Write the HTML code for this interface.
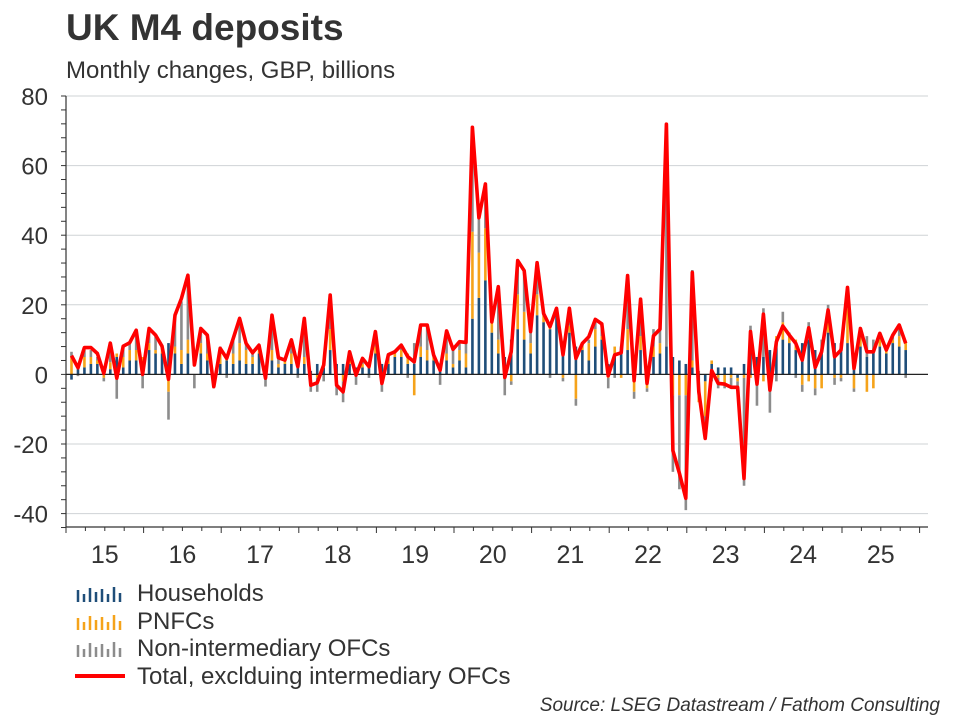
<!DOCTYPE html>
<html><head><meta charset="utf-8"><style>
body{margin:0;background:#fff;}
svg{display:block;font-family:"Liberation Sans",Arial,sans-serif;}
</style></head><body>
<svg id="chart" width="960" height="720" viewBox="0 0 960 720">
<text x="66" y="40" font-size="37" font-weight="bold" fill="#333">UK M4 deposits</text>
<text x="66" y="78" font-size="24" fill="#333">Monthly changes, GBP, billions</text>
<g id="grid"></g>
<g id="bars"></g>
<g id="axes"></g>
<g id="line"></g>
<g id="legend">
  <g>
    <g stroke="#1f4e79" stroke-width="2.5"><line x1="78" y1="602" x2="78" y2="590"/><line x1="84" y1="602" x2="84" y2="594"/><line x1="90" y1="602" x2="90" y2="588"/><line x1="96" y1="602" x2="96" y2="592"/><line x1="102" y1="602" x2="102" y2="589"/><line x1="108" y1="602" x2="108" y2="594"/><line x1="114" y1="602" x2="114" y2="587"/><line x1="120" y1="602" x2="120" y2="593"/></g>
    <text x="137" y="601" font-size="24" fill="#333">Households</text></g>
  <g>
    <g stroke="#f5a31a" stroke-width="2.5"><line x1="78" y1="630" x2="78" y2="618"/><line x1="84" y1="630" x2="84" y2="622"/><line x1="90" y1="630" x2="90" y2="616"/><line x1="96" y1="630" x2="96" y2="620"/><line x1="102" y1="630" x2="102" y2="617"/><line x1="108" y1="630" x2="108" y2="622"/><line x1="114" y1="630" x2="114" y2="615"/><line x1="120" y1="630" x2="120" y2="621"/></g>
    <text x="137" y="629" font-size="24" fill="#333">PNFCs</text></g>
  <g>
    <g stroke="#8c8c8c" stroke-width="2.5"><line x1="78" y1="657" x2="78" y2="645"/><line x1="84" y1="657" x2="84" y2="649"/><line x1="90" y1="657" x2="90" y2="643"/><line x1="96" y1="657" x2="96" y2="647"/><line x1="102" y1="657" x2="102" y2="644"/><line x1="108" y1="657" x2="108" y2="649"/><line x1="114" y1="657" x2="114" y2="642"/><line x1="120" y1="657" x2="120" y2="648"/></g>
    <text x="137" y="656" font-size="24" fill="#333">Non-intermediary OFCs</text></g>
  <g>
    <line x1="75" y1="676" x2="125" y2="676" stroke="#ff0000" stroke-width="4"/>
    <text x="137" y="684" font-size="24" fill="#333">Total, exclduing intermediary OFCs</text></g>
</g>
<text x="940" y="711" font-size="19" font-style="italic" text-anchor="end" fill="#333">Source: LSEG Datastream / Fathom Consulting</text>
</svg>
<script>
const years = ["15","16","17","18","19","20","21","22","23","24","25"];
const yTicks = [80,60,40,20,0,-20,-40];
const total = [5.4,1.9,7.7,7.7,6,0.3,9,-1.1,8.1,9.1,12.7,0,
13.2,11.3,8.1,-1.4,17,21.8,28.5,2.7,13.2,11.3,-3.5,7.5,
4.6,10.3,16.1,8.9,6.2,8.4,-1.1,17,4.8,4.1,9.9,2.2,
16.1,-3.1,-2.4,2.7,22.8,-3.1,-5,6.5,-0.2,4.6,2.2,12.3,
-2.6,5.7,6.5,8.4,5.1,3.6,14.2,14.2,5.6,1.2,12.5,7.2,
9.4,9.2,71,45,54.7,15.1,25.2,-0.9,6.5,32.7,29.8,12.3,
32.1,17.5,13.7,19,5.6,19,4.6,8.9,10.8,15.8,14.5,-0.4,
5.6,6.2,28.4,-1.8,21.6,-2.6,11.1,13,71.9,-21.9,-28.4,-35.6,
29.3,-5,-18.4,1.1,-2.6,-2.8,-3.7,-3.7,-29.9,12.3,-2.8,17.3,
-4.5,9.4,13.9,11.3,8.9,4.1,13.4,2,6.5,18.5,5.1,7,
25,1.7,13.2,6.5,6.5,11.8,7,11.3,14.2,8.9];
const households = [-1.5,1.5,2,3,3,2,1.5,5,2,4,4,3,
7,6,6,9,6,3,6,0,6,4,0,3,
4,3,4,3,3,6,-1.5,4,2,3,3,3,
3,1,3,2,7,3,3,3,2,2,2,6,
3,3,5,5,3,3,5,4,4,1,4,2,
4,2,16,22,27,12,6,5,10,13,10,6,
17,15,13,18,6,12,8,7,4,8,10,3,
6,8,7,3,7,2,5,6,8,5,4,3,
2,-5,-2,3,2,2,2,-1,3,10,5,5,
7,10,10,9,7,9,10,7,7,12,9,9,
9,6,8,5,7,8,6,9,8,7];
const pnfcs = [5,1,3,2,1,-1,2,1,3,3,3,2,
2,1,2,-5,2,4,4,0,3,2,-1,3,
1,3,5,4,2,2,0,3,1,1,3,1,
2,0,-1,0,6,-1,-2,1,0,1,0,2,
0,1,1,2,3,-6,3,3,1,0,2,1,
3,4,25,13,15,3,4,-1,-2,10,8,3,
6,2,1,1,-1,2,-7,1,5,5,1,-1,
2,-1,6,-5,4,-4,3,3,0,-6,-6,-6,
2,-3,-10,1,-1,-3,-1,-1,-1,-1,-3,-2,
-1,1,5,2,3,-3,-2,-4,-4,6,-1,-1,
10,-4,3,-5,-4,2,1,1,3,2];
const ofcs = [1.5,-0.5,2,2,1,-1,4,-7,3,2,5,-4,
3,4,0,-8,9,14,18,-4,4,5,-3,2,
-1,4,7,2,1,0,-2,10,2,0,4,-1,
11,-5,-4,-2,9,-5,-6,2,-3,1,-1,4,
-5,2,1,1,-1,6,6,7,1,-3,6,4,
2,3,30,10,13,0,15,-5,-1,9,12,3,
9,1,-1,0,-1,5,-2,1,1,3,3,-3,
-1,0,15,-2,10,-1,5,4,64,-22,-27,-33,
26,1,-6,-2,-3,-1,-3,-2,-31,4,-6,14,
-10,-2,3,1,-1,-2,5,-2,3,2,-2,-1,
6,-1,2,6,3,2,0,1,3,-1];

const NS="http://www.w3.org/2000/svg";
const X0=66, X1=928, YW=77.6, MW=YW/12;
const xScale = i => X0 + (i+0.85)*MW;
const yScale = v => 374.4 - v*3.48;
function mk(tag, attrs, parent){const e=document.createElementNS(NS,tag);for(const k in attrs)e.setAttribute(k,attrs[k]);parent.appendChild(e);return e;}
const grid=document.getElementById('grid'), axes=document.getElementById('axes'), bars=document.getElementById('bars'), lineG=document.getElementById('line');

yTicks.forEach(v=>{
  if(v!==0){const g=mk('line',{x1:X0,x2:X1,y1:yScale(v),y2:yScale(v),stroke:'#cfd3d6','stroke-width':1},grid);
  
  }
  const t=mk('text',{x:48,y:yScale(v)+9,'font-size':24,'text-anchor':'end',fill:'#333'},axes);
  t.textContent=v;
  
  
});
for(let v=-44;v<=80;v+=4){mk('line',{x1:61,x2:X0,y1:yScale(v),y2:yScale(v),stroke:'#333','stroke-width':1},axes);}
const ya=mk('line',{x1:X0,x2:X0,y1:yScale(80),y2:527,stroke:'#333','stroke-width':1.2},axes);


const xa=mk('line',{x1:X0,x2:X1,y1:527,y2:527,stroke:'#333','stroke-width':1.2},axes);


for(let q=0;q<=44;q++){const x=X0+q*YW/4;if(x>X1)break;mk('line',{x1:x,x2:x,y1:527,y2:q%4===0?533:531,stroke:'#333','stroke-width':1},axes);}
years.forEach((y,i)=>{
  const t=mk('text',{x:X0+(i+0.5)*YW,y:563,'font-size':25,'text-anchor':'middle',fill:'#333'},axes);
  t.textContent=y;
  
  
});

const series=[[households,'#1f4e79'],[pnfcs,'#f5a31a'],[ofcs,'#8c8c8c']];
total.forEach((_,i)=>{
  let pos=0,neg=0;
  series.forEach(([arr,col])=>{
    const v=arr[i]; let a,b;
    if(v>=0){a=pos;b=pos+v;pos=b;}else{a=neg;b=neg+v;neg=b;}
    const r=mk('rect',{x:xScale(i)-1.3,y:Math.min(yScale(a),yScale(b)),width:2.6,height:Math.abs(yScale(a)-yScale(b)),fill:col},bars);
    
    
  });
});
const zl=mk('line',{x1:X0,x2:X1,y1:yScale(0),y2:yScale(0),stroke:'#222','stroke-width':1.2},axes);


const pts=total.map((v,i)=>xScale(i).toFixed(1)+','+yScale(v).toFixed(1)).join(' ');
const pl=mk('polyline',{points:pts,fill:'none',stroke:'#ff0000','stroke-width':3.6,'stroke-linejoin':'round'},lineG);


</script>
</body></html>
